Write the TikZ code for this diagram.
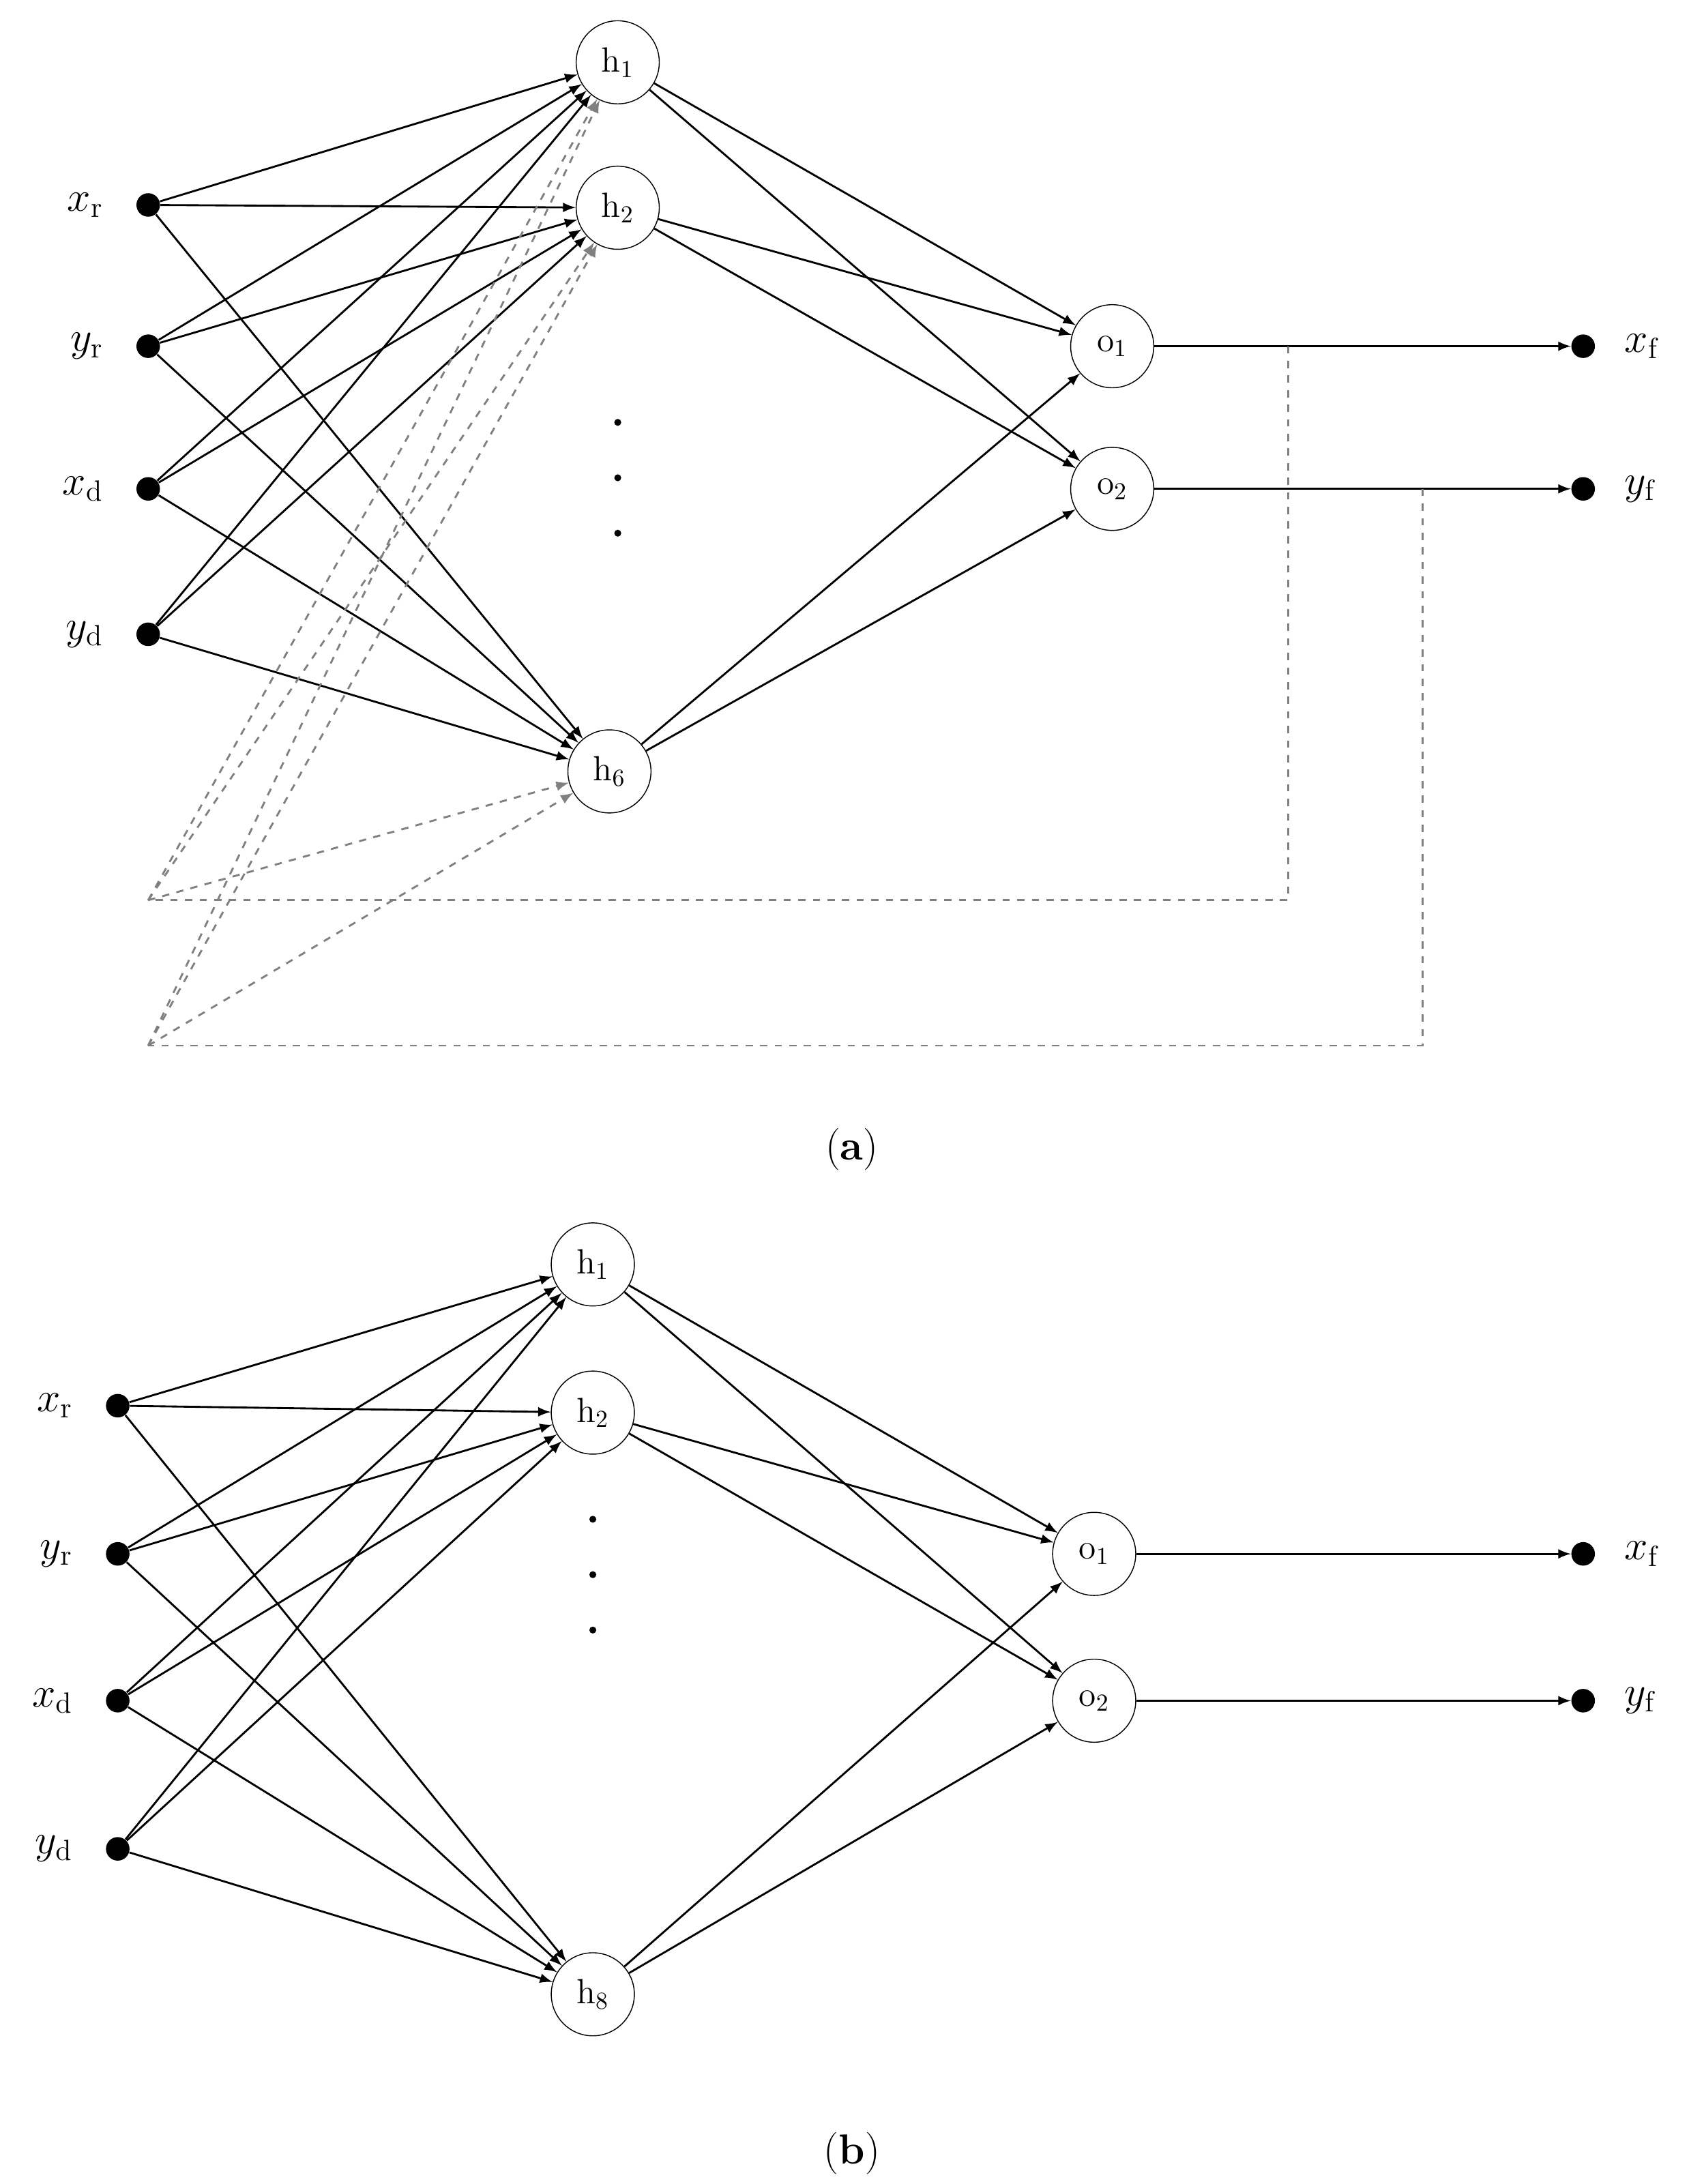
\documentclass[tikz,border=0pt]{standalone}
\usepackage{amsmath}
\usepackage{tikz}
\usetikzlibrary{positioning}
\begin{document}
\begin{tikzpicture}[x=0.02cm,y=-0.02cm,
  neuron/.style={draw,circle,minimum size=1.2cm,inner sep=0pt,font=\Large},
  dot/.style={circle,fill,inner sep=0pt,minimum size=0.34cm},
  lab/.style={font=\LARGE},
  arr/.style={->,>=latex,thick},
  fb/.style={dashed,gray,thick},
  fbarr/.style={->,>=latex,dashed,gray,thick}]
\useasboundingbox (0,0) rectangle (1230,1577);
% panel (a)
\node[dot] (axr) at (107,148) {};
\node[dot] (ayr) at (107,250) {};
\node[dot] (axd) at (107,353) {};
\node[dot] (ayd) at (107,458) {};
\node[lab,left=0.35cm of axr] {$x_{\mathrm{r}}$};
\node[lab,left=0.35cm of ayr] {$y_{\mathrm{r}}$};
\node[lab,left=0.35cm of axd] {$x_{\mathrm{d}}$};
\node[lab,left=0.35cm of ayd] {$y_{\mathrm{d}}$};
\node[neuron] (ah1) at (446,45) {h$_1$};
\node[neuron] (ah2) at (446,150) {h$_2$};
\node[neuron] (ah6) at (440,557) {h$_6$};
\foreach \y in {305,345,385} \fill (446,\y) circle (2.5);
\node[neuron] (ao1) at (803,250) {o$_1$};
\node[neuron] (ao2) at (803,353) {o$_2$};
\node[dot] (axf) at (1143,250) {};
\node[dot] (ayf) at (1143,353) {};
\node[lab,right=0.3cm of axf] {$x_{\mathrm{f}}$};
\node[lab,right=0.3cm of ayf] {$y_{\mathrm{f}}$};
\foreach \i in {axr,ayr,axd,ayd}
  \foreach \h in {ah1,ah2,ah6}
    \draw[arr] (\i) -- (\h);
\foreach \h in {ah1,ah2,ah6}
  \foreach \o in {ao1,ao2}
    \draw[arr] (\h) -- (\o);
\draw[arr] (ao1) -- (axf);
\draw[arr] (ao2) -- (ayf);
\coordinate (ta) at (930,250);
\coordinate (tb) at (1027,353);
\coordinate (fa) at (107,650);
\coordinate (fbb) at (107,755);
\draw[fb] (ta) |- (fa);
\draw[fb] (tb) |- (fbb);
\foreach \h in {ah1,ah2,ah6} {
  \draw[fbarr] (fa) -- (\h);
  \draw[fbarr] (fbb) -- (\h);
}
\node[font=\LARGE] (capa) at (615,830) {(\textbf{a})};
% panel (b)
\node[dot] (bxr) at (85,1015) {};
\node[dot] (byr) at (85,1122) {};
\node[dot] (bxd) at (85,1228) {};
\node[dot] (byd) at (85,1335) {};
\node[lab,left=0.35cm of bxr] {$x_{\mathrm{r}}$};
\node[lab,left=0.35cm of byr] {$y_{\mathrm{r}}$};
\node[lab,left=0.35cm of bxd] {$x_{\mathrm{d}}$};
\node[lab,left=0.35cm of byd] {$y_{\mathrm{d}}$};
\node[neuron] (bh1) at (428,913) {h$_1$};
\node[neuron] (bh2) at (428,1020) {h$_2$};
\node[neuron] (bh8) at (428,1440) {h$_8$};
\foreach \y in {1097,1137,1177} \fill (428,\y) circle (2.5);
\node[neuron] (bo1) at (790,1122) {o$_1$};
\node[neuron] (bo2) at (790,1228) {o$_2$};
\node[dot] (bxf) at (1143,1122) {};
\node[dot] (byf) at (1143,1228) {};
\node[lab,right=0.3cm of bxf] {$x_{\mathrm{f}}$};
\node[lab,right=0.3cm of byf] {$y_{\mathrm{f}}$};
\foreach \i in {bxr,byr,bxd,byd}
  \foreach \h in {bh1,bh2,bh8}
    \draw[arr] (\i) -- (\h);
\foreach \h in {bh1,bh2,bh8}
  \foreach \o in {bo1,bo2}
    \draw[arr] (\h) -- (\o);
\draw[arr] (bo1) -- (bxf);
\draw[arr] (bo2) -- (byf);
\node[font=\LARGE] (capb) at (615,1555) {(\textbf{b})};
\end{tikzpicture}
\end{document}
